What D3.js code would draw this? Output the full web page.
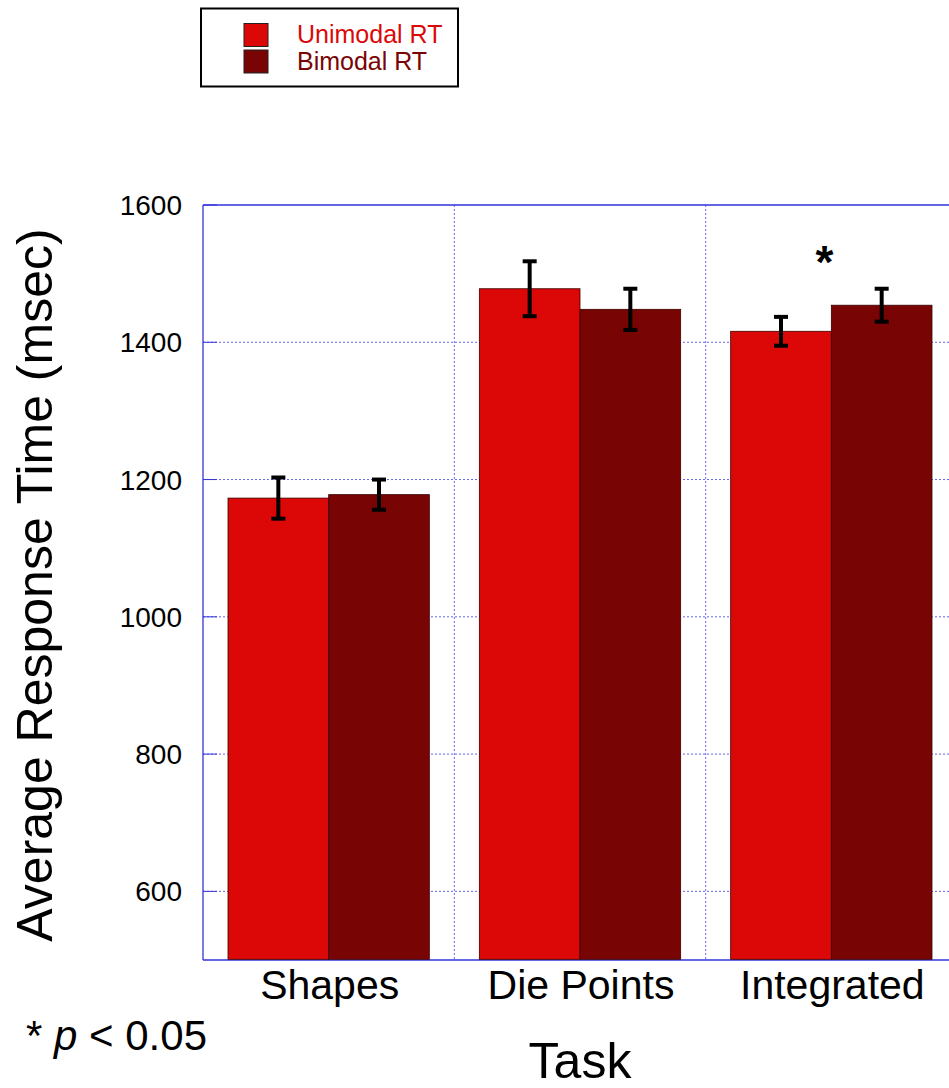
<!doctype HTML>
<html>
<head>
    <style>
        body { margin: 0; background: #fff; }
        text { font-family: "Liberation Sans", Arial, sans-serif; }
    </style>
    <script src="https://d3js.org/d3.v7.min.js"></script>
</head>
<body>
<script>
    // data
    var tasks = ["Shapes", "Die Points", "Integrated"];
    var seriesNames = ["Unimodal RT", "Bimodal RT"];
    var unimodal = [1173, 1478, 1416];
    var bimodal = [1178, 1448, 1454];
    var unimodalErr = [30, 40, 21];
    var bimodalErr = [22, 30, 24];
    var yTicks = [600, 800, 1000, 1200, 1400, 1600];
    var colors = ["#dc0808", "#790404"];

    var canvasWidth = 949;
    var canvasHeight = 1088;
    var plotLeft = 203, plotRight = 957, plotTop = 205, plotBottom = 960;

    var svg = d3.select("body").append("svg")
        .attr("width", canvasWidth)
        .attr("height", canvasHeight);

    var xScale = d3.scaleBand().domain(tasks).range([plotLeft, plotRight]);
    var xInner = d3.scaleBand().domain(seriesNames).range([25, xScale.bandwidth() - 25]);
    var yScale = d3.scaleLinear().domain([500, 1600]).range([plotBottom, plotTop]);

    // gridlines (dotted)
    svg.append("g").selectAll("line")
        .data(yTicks.slice(0, -1))
        .enter().append("line")
        .attr("x1", plotLeft).attr("x2", plotRight)
        .attr("y1", d => yScale(d)).attr("y2", d => yScale(d))
        .attr("stroke", "#6666ee")
        .attr("stroke-width", 1)
        .attr("stroke-dasharray", "2,2");

    svg.append("g").selectAll("line")
        .data(tasks.slice(1))
        .enter().append("line")
        .attr("x1", d => xScale(d)).attr("x2", d => xScale(d))
        .attr("y1", plotTop).attr("y2", plotBottom)
        .attr("stroke", "#6666ee")
        .attr("stroke-width", 1)
        .attr("stroke-dasharray", "2,2");

    // inward solid ticks
    svg.append("g").selectAll("line")
        .data(yTicks)
        .enter().append("line")
        .attr("x1", plotLeft).attr("x2", plotLeft + 14)
        .attr("y1", d => yScale(d)).attr("y2", d => yScale(d))
        .attr("stroke", "#3333dd");

    // frame
    svg.append("line").attr("x1", plotLeft).attr("x2", plotLeft).attr("y1", plotTop).attr("y2", plotBottom)
        .attr("stroke", "#3333dd").attr("stroke-width", 1.3);
    svg.append("line").attr("x1", plotLeft).attr("x2", plotRight).attr("y1", plotTop).attr("y2", plotTop)
        .attr("stroke", "#3333dd").attr("stroke-width", 1.3);
    svg.append("line").attr("x1", plotLeft).attr("x2", plotRight).attr("y1", plotBottom).attr("y2", plotBottom)
        .attr("stroke", "#3333dd").attr("stroke-width", 1.3);

    var rows = [];
    tasks.forEach(function(t, i) {
        rows.push({task: t, s: seriesNames[0], v: unimodal[i], e: unimodalErr[i], c: colors[0]});
        rows.push({task: t, s: seriesNames[1], v: bimodal[i], e: bimodalErr[i], c: colors[1]});
    });

    // bars
    svg.append("g").selectAll("rect")
        .data(rows)
        .enter().append("rect")
        .attr("x", d => xScale(d.task) + xInner(d.s))
        .attr("y", d => yScale(d.v))
        .attr("width", xInner.bandwidth())
        .attr("height", d => plotBottom - yScale(d.v) - 0.7)
        .attr("fill", d => d.c)
        .attr("stroke", "#3a0000")
        .attr("stroke-width", 0.8);

    // error bars
    var errG = svg.append("g").attr("stroke", "#000").attr("stroke-width", 4);
    rows.forEach(function(d) {
        var cx = xScale(d.task) + xInner(d.s) + xInner.bandwidth() / 2;
        errG.append("line").attr("x1", cx).attr("x2", cx)
            .attr("y1", yScale(d.v + d.e)).attr("y2", yScale(d.v - d.e));
        errG.append("line").attr("x1", cx - 7).attr("x2", cx + 7)
            .attr("y1", yScale(d.v + d.e)).attr("y2", yScale(d.v + d.e));
        errG.append("line").attr("x1", cx - 7).attr("x2", cx + 7)
            .attr("y1", yScale(d.v - d.e)).attr("y2", yScale(d.v - d.e));
    });

    // significance star
    svg.append("text")
        .attr("x", xScale("Integrated") + xInner("Bimodal RT") - 7)
        .attr("y", 278)
        .attr("text-anchor", "middle")
        .attr("font-size", "46px")
        .attr("font-weight", "bold")
        .text("*");

    // y tick labels
    svg.append("g").selectAll("text")
        .data(yTicks)
        .enter().append("text")
        .attr("x", 182)
        .attr("y", d => yScale(d) + 10)
        .attr("text-anchor", "end")
        .attr("font-size", "28px")
        .text(d => d);

    // x labels
    svg.append("g").selectAll("text")
        .data(tasks)
        .enter().append("text")
        .attr("x", d => xScale(d) + xScale.bandwidth() / 2 + 1)
        .attr("y", 999)
        .attr("text-anchor", "middle")
        .attr("font-size", "41px")
        .text(d => d);

    // axis titles
    svg.append("text")
        .attr("transform", "translate(52, 585) rotate(-90)")
        .attr("text-anchor", "middle")
        .attr("font-size", "50px")
        .text("Average Response Time (msec)");

    svg.append("text")
        .attr("x", 580)
        .attr("y", 1078)
        .attr("text-anchor", "middle")
        .attr("font-size", "50px")
        .text("Task");

    var note = svg.append("text")
        .attr("x", 26)
        .attr("y", 1050)
        .attr("font-size", "42px");
    note.append("tspan").text("* ");
    note.append("tspan").attr("font-style", "italic").text("p");
    note.append("tspan").text(" < 0.05");

    // legend
    svg.append("rect")
        .attr("x", 201).attr("y", 8.5)
        .attr("width", 257).attr("height", 78)
        .attr("fill", "none")
        .attr("stroke", "#000")
        .attr("stroke-width", 2);

    seriesNames.forEach(function(s, i) {
        svg.append("rect")
            .attr("x", 244).attr("y", 23.5 + i * 26.5)
            .attr("width", 24).attr("height", 23)
            .attr("fill", colors[i])
            .attr("stroke", "#222")
            .attr("stroke-width", 1);
        svg.append("text")
            .attr("x", 297).attr("y", 43 + i * 27)
            .attr("font-size", "25px")
            .attr("fill", colors[i])
            .text(s);
    });
</script>
</body>
</html>
